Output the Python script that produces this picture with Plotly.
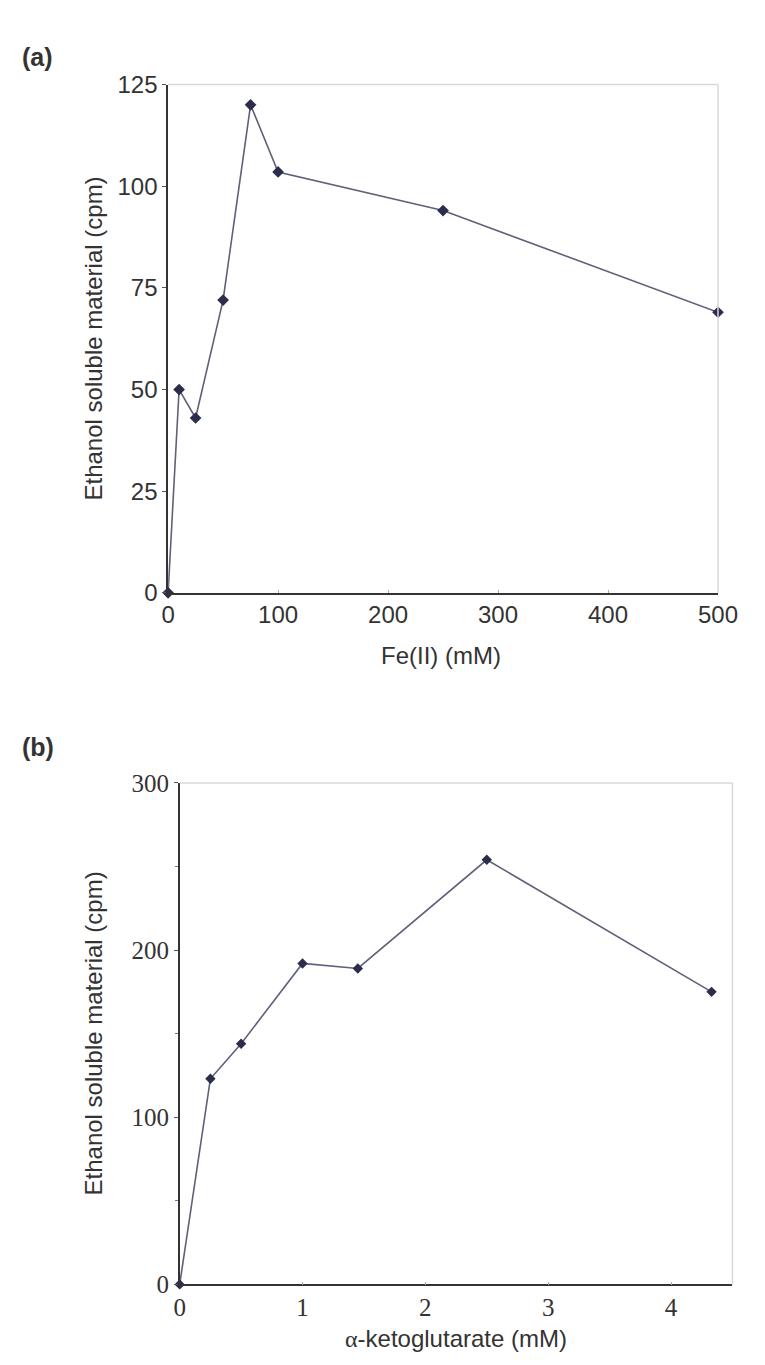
import plotly.graph_objects as go

# Panel (a): Fe(II) concentration vs ethanol soluble material
fe_conc = [0, 10, 25, 50, 75, 100, 250, 500]
fe_cpm = [0, 50, 43, 72, 120, 103.5, 94, 69]
fe_xticks = [0, 100, 200, 300, 400, 500]
fe_yticks = [0, 25, 50, 75, 100, 125]

# Panel (b): alpha-ketoglutarate concentration vs ethanol soluble material
akg_conc = [0, 0.25, 0.5, 1.0, 1.45, 2.5, 4.33]
akg_cpm = [0, 123, 144, 192, 189, 254, 175]
akg_xticks = [0, 1, 2, 3, 4]
akg_yticks = [0, 100, 200, 300]

LINE = "#60607a"
MARK = "#2c2c4c"
TXT = "#333333"
SANS = "Liberation Sans, Arial, sans-serif"
SERIF = "Liberation Serif, Times New Roman, serif"

fig = go.Figure()
fig.add_trace(go.Scatter(x=fe_conc, y=fe_cpm, mode="lines+markers",
                         line=dict(color=LINE, width=1.6),
                         marker=dict(symbol="diamond", size=9, color=MARK),
                         cliponaxis=False, xaxis="x", yaxis="y", showlegend=False))
fig.add_trace(go.Scatter(x=akg_conc, y=akg_cpm, mode="lines+markers",
                         line=dict(color=LINE, width=1.6),
                         marker=dict(symbol="diamond", size=8, color=MARK),
                         cliponaxis=False, xaxis="x2", yaxis="y2", showlegend=False))

W, H = 765, 1365
top = dict(l=167, r=737, t=72, b=591)
bot = dict(l=179, r=752, t=785, b=1297)

def xd(p):
    return [p["l"] / W, p["r"] / W]

def yd(p):
    return [1 - p["b"] / H, 1 - p["t"] / H]

axis_common = dict(showgrid=False, zeroline=False, showline=True, linecolor="#333333",
                   linewidth=1.5)

fig.update_layout(
    width=W, height=H,
    margin=dict(l=0, r=0, t=0, b=0),
    paper_bgcolor="white", plot_bgcolor="white",
    xaxis=dict(domain=xd(top), range=[0, 500], tickvals=fe_xticks,
               ticks="inside", ticklen=3, tickcolor="#aaaaaa",
               tickfont=dict(family=SANS, size=24, color=TXT), anchor="y",
               **axis_common),
    yaxis=dict(domain=yd(top), range=[0, 125], tickvals=fe_yticks,
               ticks="outside", ticklen=4, tickcolor="#555555",
               tickfont=dict(family=SANS, size=24, color=TXT), anchor="x",
               ticklabelstandoff=0,
               **axis_common),
    xaxis2=dict(domain=xd(bot), range=[0, 4.5], tickvals=akg_xticks,
                ticks="inside", ticklen=3, tickcolor="#aaaaaa",
                tickfont=dict(family=SERIF, size=25, color=TXT), anchor="y2",
                **axis_common),
    yaxis2=dict(domain=yd(bot), range=[0, 300], tickvals=akg_yticks,
                ticks="outside", ticklen=4, tickcolor="#555555",
                minor=dict(dtick=50, ticks="outside", ticklen=3, tickcolor="#777777"),
                tickfont=dict(family=SERIF, size=25, color=TXT), anchor="x2",
                ticklabelstandoff=0,
                **axis_common),
)

# light grey top/right frame lines
for xr, yr in (("x domain", "y domain"), ("x2 domain", "y2 domain")):
    fig.add_shape(type="line", xref=xr, yref=yr, x0=0, x1=1, y0=1, y1=1,
                  line=dict(color="#d8d8d8", width=1.5))
    fig.add_shape(type="line", xref=xr, yref=yr, x0=1, x1=1, y0=0, y1=1,
                  line=dict(color="#d8d8d8", width=1.5))

def ann(text, x, y, size, angle=0, bold=False, family=SANS):
    fig.add_annotation(text=f"<b>{text}</b>" if bold else text,
                       x=x / W, y=1 - y / H, xref="paper", yref="paper",
                       showarrow=False, textangle=angle,
                       font=dict(family=family, size=size, color=TXT),
                       xanchor="center", yanchor="middle")

ann("(a)", 32, 44, 25, bold=True)
ann("(b)", 32, 748, 25, bold=True)
ann("Fe(II) (mM)", 450, 655, 24)
ann("Ethanol soluble material (cpm)", 90, (top["t"] + top["b"]) / 2, 24, angle=-90)
ann("Ethanol soluble material (cpm)", 90, (bot["t"] + bot["b"]) / 2, 24, angle=-90)
ann(f"<span style=\"font-family:{SERIF}\">\u03b1</span>-ketoglutarate (mM)", 465, 1352, 24)

fig.write_html("out.html")
